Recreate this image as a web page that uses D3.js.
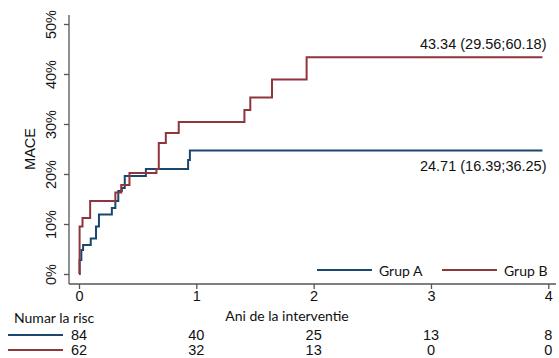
<!DOCTYPE html>
<html><head><meta charset="utf-8">
<script src="https://cdn.jsdelivr.net/npm/d3@7"></script>
<style>body{margin:0;background:#fff}</style>
</head><body><svg id="c" width="559" height="358"></svg>
<script>
// Data
const groups = ["Grup A", "Grup B"];
const colors = ["#1a476f", "#90353b"];
const grupA_t = [0, 0.005, 0.02, 0.035, 0.1, 0.145, 0.17, 0.28, 0.31, 0.335, 0.365, 0.39, 0.57, 0.93, 0.945, 3.95];
const grupA_v = [0, 2.8, 4.8, 5.8, 7.1, 9.5, 11.9, 13.2, 14.6, 16.6, 17.2, 19.6, 21.0, 22.8, 24.71, 24.71];
const grupB_t = [0, 0.005, 0.03, 0.095, 0.31, 0.36, 0.43, 0.66, 0.68, 0.74, 0.85, 1.41, 1.46, 1.645, 1.94, 3.95];
const grupB_v = [0, 9.5, 11.2, 14.6, 16.3, 17.8, 20.2, 21.0, 26.2, 28.2, 30.4, 32.8, 35.3, 38.9, 43.34, 43.34];
const xTicks = [0, 1, 2, 3, 4];
const yTicks = [0, 10, 20, 30, 40, 50];
const riskA = [84, 40, 25, 13, 8];
const riskB = [62, 32, 13, 0, 0];
const labelA = "24.71 (16.39;36.25)";
const labelB = "43.34 (29.56;60.18)";

const svg = d3.select("#c");
const x = d3.scaleLinear().domain([0, 4]).range([79, 548.3]);
const y = d3.scaleLinear().domain([0, 50]).range([274, 24]);
const axisCol = "#555";
const numFont = "'Liberation Sans', Arial, sans-serif";
const txtFont = "Lato, 'Open Sans', sans-serif";
const fs = 14.5;
const ts = 14;

// axes
const xAxisG = svg.append("g").attr("transform", "translate(0,284)")
  .call(d3.axisBottom(x).tickValues(xTicks).tickSize(5).tickPadding(2).tickFormat(d3.format("d")));
xAxisG.select(".domain").remove();
xAxisG.append("line").attr("x1", 69).attr("x2", 556).attr("stroke", axisCol).attr("stroke-width", 1.3);
xAxisG.selectAll(".tick line").attr("stroke", axisCol).attr("stroke-width", 1.3);
xAxisG.selectAll(".tick text").attr("font-family", numFont).attr("font-size", fs).attr("fill", "#111");

const yAxisG = svg.append("g").attr("transform", "translate(69,0)")
  .call(d3.axisLeft(y).tickValues(yTicks).tickSize(5).tickPadding(0).tickFormat(d => d + "%"));
yAxisG.select(".domain").remove();
yAxisG.append("line").attr("y1", 15).attr("y2", 284).attr("stroke", axisCol).attr("stroke-width", 1.3);
yAxisG.selectAll(".tick line").attr("stroke", axisCol).attr("stroke-width", 1.3);
yAxisG.selectAll(".tick text")
  .attr("font-family", numFont).attr("font-size", fs).attr("fill", "#111")
  .attr("x", null).attr("dy", null)
  .attr("text-anchor", "middle")
  .attr("transform", "translate(-18,0) rotate(-90)")
  .attr("dominant-baseline", "central");

svg.append("text").attr("transform", "translate(30,149) rotate(-90)")
  .attr("text-anchor", "middle").attr("dominant-baseline", "central")
  .attr("font-family", numFont).attr("font-size", fs).attr("fill", "#111").text("MACE");

// curves
const line = d3.line().x(d => x(d[0])).y(d => y(d[1])).curve(d3.curveStepAfter);
[[grupA_t, grupA_v], [grupB_t, grupB_v]].forEach((s, i) => {
  const pts = s[0].map((t, j) => [t, s[1][j]]);
  svg.append("path").datum(pts).attr("d", line).attr("fill", "none")
    .attr("stroke", colors[i]).attr("stroke-width", 2);
});

// end labels
svg.append("text").attr("x", 546.5).attr("y", 48.5).attr("text-anchor", "end")
  .attr("font-family", numFont).attr("font-size", fs).attr("fill", "#111").text(labelB);
svg.append("text").attr("x", 546.5).attr("y", 171).attr("text-anchor", "end")
  .attr("font-family", numFont).attr("font-size", fs).attr("fill", "#111").text(labelA);

// legend
const legX = [[317, 372, 379], [442, 497, 504]];
groups.forEach((g, i) => {
  svg.append("line").attr("x1", legX[i][0]).attr("x2", legX[i][1]).attr("y1", 270).attr("y2", 270)
    .attr("stroke", colors[i]).attr("stroke-width", 2);
  svg.append("text").attr("x", legX[i][2]).attr("y", 270).attr("dominant-baseline", "central")
    .attr("font-family", txtFont).attr("font-size", ts).attr("fill", "#111").text(g);
});

// axis title & risk table
svg.append("text").attr("x", 287).attr("y", 315).attr("text-anchor", "middle").attr("dominant-baseline", "central")
  .attr("font-family", txtFont).attr("font-size", ts).attr("fill", "#111").text("Ani de la interventie");
svg.append("text").attr("x", 14).attr("y", 317).attr("dominant-baseline", "central")
  .attr("font-family", txtFont).attr("font-size", ts).attr("fill", "#111").text("Numar la risc");

[[riskA, 335], [riskB, 350]].forEach((r, i) => {
  svg.append("line").attr("x1", 8).attr("x2", 63).attr("y1", r[1]).attr("y2", r[1])
    .attr("stroke", colors[i]).attr("stroke-width", 2);
  svg.selectAll(null).data(r[0]).enter().append("text")
    .attr("x", (d, j) => x(xTicks[j])).attr("y", r[1]).attr("text-anchor", "middle")
    .attr("dominant-baseline", "central")
    .attr("font-family", numFont).attr("font-size", fs).attr("fill", "#111").text(d => d);
});
</script></body></html>
